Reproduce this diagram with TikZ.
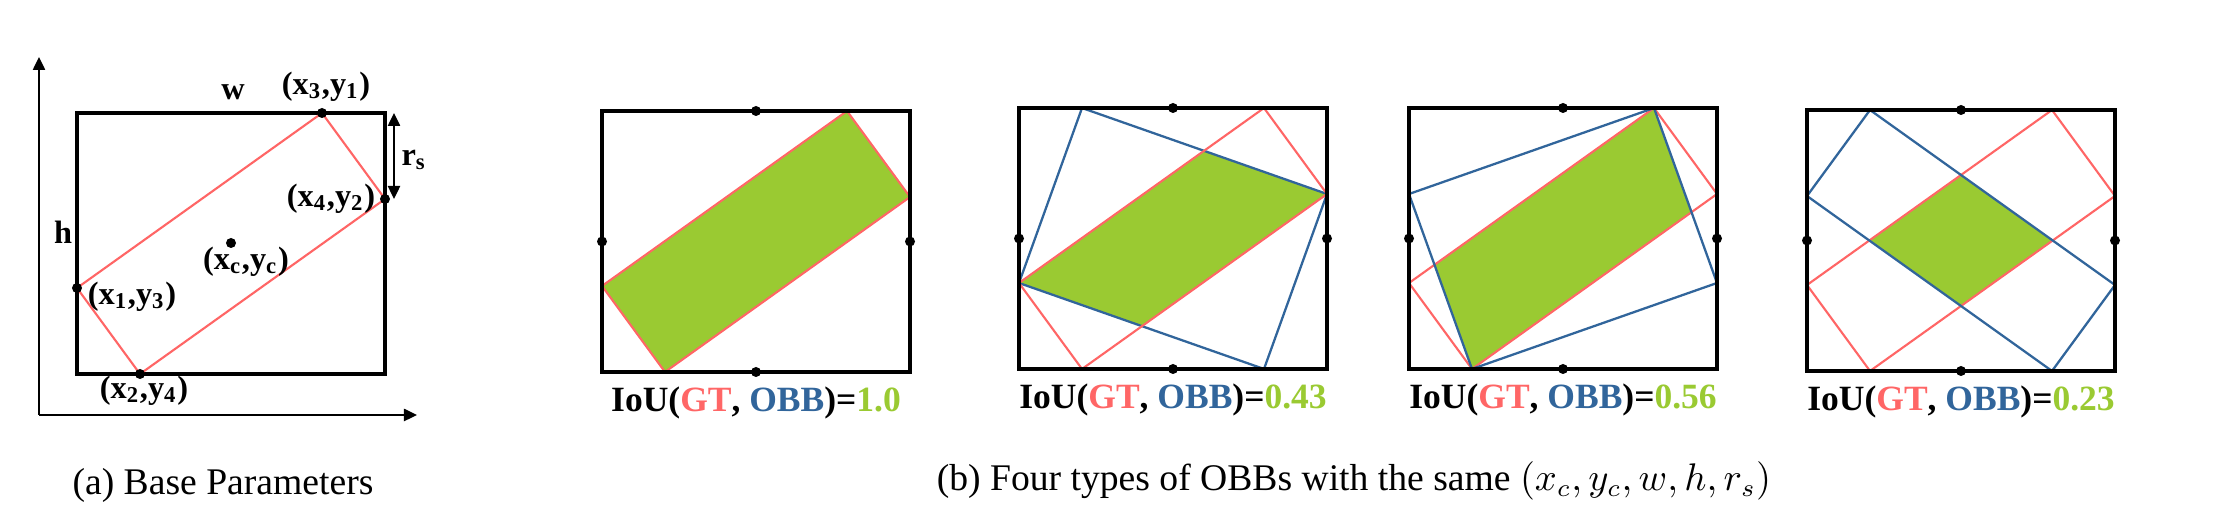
\documentclass[tikz,border=0pt]{standalone}
\usepackage{fontspec}
\setmainfont{Liberation Serif}
\usepackage{tikz}
\usetikzlibrary{arrows.meta}
\usetikzlibrary{positioning}

\definecolor{gtred}{RGB}{255,102,102}
\definecolor{obbblue}{RGB}{49,101,155}
\definecolor{iougreen}{RGB}{154,202,50}

\begin{document}
\begin{tikzpicture}[x=0.01cm, y=-0.01cm,
        boxline/.style={draw=black, line width=1pt},
        gtline/.style={draw=gtred, line width=0.6pt},
        obbline/.style={draw=obbblue, line width=0.65pt},
        dotnode/.style={circle, fill=black, inner sep=0pt, minimum size=0.1cm},
        lbl/.style={font=\fontsize{9.2}{11}\selectfont\bfseries, inner sep=0pt},
        ioulabel/.style={font=\fontsize{10.1}{12}\selectfont\bfseries, inner sep=0pt},
        caption/.style={font=\fontsize{10.7}{13}\selectfont, inner sep=0pt, anchor=base},
        tip/.style={-{Triangle[length=0.13cm, width=0.12cm]}}]
        \useasboundingbox (0,0) rectangle (2220,507);

        % (a) base parameters
        \coordinate (origin) at (39,415);
        \coordinate (yend) at (39,57);
        \coordinate (xend) at (417,415);
        \draw[tip, line width=0.7pt] (origin) -- (yend);
        \draw[tip, line width=0.7pt] (origin) -- (xend);

        \coordinate (a-tl) at (77,113);
        \coordinate (a-br) at (385,374);
        \draw[boxline] (a-tl) rectangle (a-br);

        \coordinate (a-top) at (322,113);
        \coordinate (a-right) at (385,199);
        \coordinate (a-bottom) at (140,374);
        \coordinate (a-left) at (77,288);
        \draw[gtline] (a-top) -- (a-right) -- (a-bottom) -- (a-left) -- cycle;
        \foreach \p in {a-top, a-right, a-bottom, a-left}
            \node[dotnode] at (\p) {};
        \node[dotnode] (a-c) at (231,243) {};

        \coordinate (rs-top) at (394,113);
        \coordinate (rs-bot) at (394,199);
        \draw[{Triangle[length=0.13cm, width=0.12cm]}-{Triangle[length=0.13cm, width=0.12cm]}, line width=0.7pt] (rs-top) -- (rs-bot);

        \node[lbl] (w) at (233,92) {w};
        \node[lbl] (h) at (63,232) {h};
        \node[lbl] (rs) at (414,160) {r\textsubscript{s}};
        \node[lbl] (l-top) at (326,87) {(x\textsubscript{3},y\textsubscript{1})};
        \node[lbl] (l-right) at (331,199) {(x\textsubscript{4},y\textsubscript{2})};
        \node[lbl] (l-c) at (246,262) {(x\textsubscript{c},y\textsubscript{c})};
        \node[lbl] (l-left) at (132,297) {(x\textsubscript{1},y\textsubscript{3})};
        \node[lbl] (l-bottom) at (144,391) {(x\textsubscript{2},y\textsubscript{4})};

        \node[caption] (cap-a) at (223,495) {(a) Base Parameters};

        % (b) panel 1
        \begin{scope}[shift={(602,111)}]
            \fill[iougreen] (245,0) -- (308,86) -- (63,261) -- (0,175) -- cycle;
            \draw[gtline] (245,0) -- (308,86) -- (63,261) -- (0,175) -- cycle;
            \draw[boxline] (0,0) rectangle (308,261);
            \node[dotnode] (p1t) at (154,0) {};
            \node[dotnode] (p1b) at (154,261) {};
            \node[dotnode] (p1l) at (0,130.5) {};
            \node[dotnode] (p1r) at (308,130.5) {};
            \node[ioulabel, below=0.08cm of p1b] (iou1) {IoU(\textcolor{gtred}{GT}, \textcolor{obbblue}{OBB})=\textcolor{iougreen}{1.0}};
        \end{scope}

        % (b) panel 2
        \begin{scope}[shift={(1019,108)}]
            \begin{scope}
                \clip (63,0) -- (308,86) -- (245,261) -- (0,175) -- cycle;
                \fill[iougreen] (245,0) -- (308,86) -- (63,261) -- (0,175) -- cycle;
            \end{scope}
            \draw[obbline] (63,0) -- (308,86) -- (245,261) -- (0,175) -- cycle;
            \draw[gtline] (245,0) -- (308,86) -- (63,261) -- (0,175) -- cycle;
            \draw[boxline] (0,0) rectangle (308,261);
            \node[dotnode] (p2t) at (154,0) {};
            \node[dotnode] (p2b) at (154,261) {};
            \node[dotnode] (p2l) at (0,130.5) {};
            \node[dotnode] (p2r) at (308,130.5) {};
            \node[ioulabel, below=0.08cm of p2b] (iou2) {IoU(\textcolor{gtred}{GT}, \textcolor{obbblue}{OBB})=\textcolor{iougreen}{0.43}};
        \end{scope}

        % (b) panel 3
        \begin{scope}[shift={(1409,108)}]
            \begin{scope}
                \clip (245,0) -- (308,175) -- (63,261) -- (0,86) -- cycle;
                \fill[iougreen] (245,0) -- (308,86) -- (63,261) -- (0,175) -- cycle;
            \end{scope}
            \draw[gtline] (245,0) -- (308,86) -- (63,261) -- (0,175) -- cycle;
            \draw[obbline] (245,0) -- (308,175) -- (63,261) -- (0,86) -- cycle;
            \draw[boxline] (0,0) rectangle (308,261);
            \node[dotnode] (p3t) at (154,0) {};
            \node[dotnode] (p3b) at (154,261) {};
            \node[dotnode] (p3l) at (0,130.5) {};
            \node[dotnode] (p3r) at (308,130.5) {};
            \node[ioulabel, below=0.08cm of p3b] (iou3) {IoU(\textcolor{gtred}{GT}, \textcolor{obbblue}{OBB})=\textcolor{iougreen}{0.56}};
        \end{scope}

        % (b) panel 4
        \begin{scope}[shift={(1807,110)}]
            \begin{scope}
                \clip (63,0) -- (308,175) -- (245,261) -- (0,86) -- cycle;
                \fill[iougreen] (245,0) -- (308,86) -- (63,261) -- (0,175) -- cycle;
            \end{scope}
            \draw[gtline] (245,0) -- (308,86) -- (63,261) -- (0,175) -- cycle;
            \draw[obbline] (63,0) -- (308,175) -- (245,261) -- (0,86) -- cycle;
            \draw[boxline] (0,0) rectangle (308,261);
            \node[dotnode] (p4t) at (154,0) {};
            \node[dotnode] (p4b) at (154,261) {};
            \node[dotnode] (p4l) at (0,130.5) {};
            \node[dotnode] (p4r) at (308,130.5) {};
            \node[ioulabel, below=0.08cm of p4b] (iou4) {IoU(\textcolor{gtred}{GT}, \textcolor{obbblue}{OBB})=\textcolor{iougreen}{0.23}};
        \end{scope}

        \node[caption] (cap-b) at (1354,491) {(b) Four types of OBBs with the same $(x_c, y_c, w, h, r_s)$};
    \end{tikzpicture}
\end{document}
